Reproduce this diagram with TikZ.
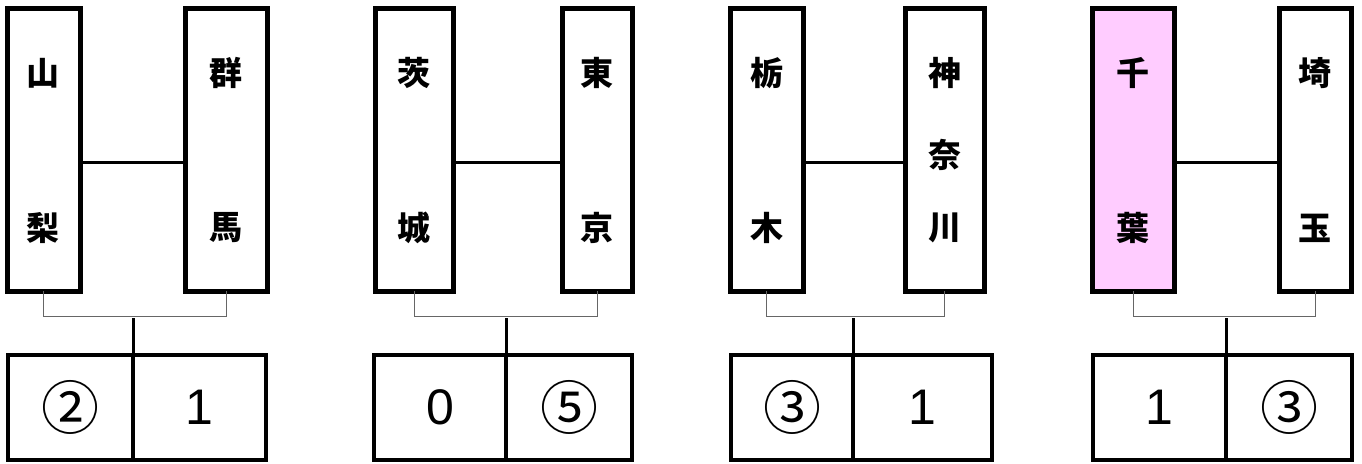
\documentclass[tikz,border=0pt]{standalone}
\usepackage{fontspec}
\setmainfont{Liberation Sans}
\newfontfamily\jp{Noto Sans CJK JP}
\usetikzlibrary{positioning}

\definecolor{winpink}{RGB}{255,204,255}
\newcommand{\circnum}[1]{{\jp\fontsize{58}{58}\selectfont #1}}
\tikzset{
  pref/.style={draw, line width=5pt, minimum height=283pt, inner sep=0pt, outer sep=0pt},
  pname/.style={font=\jp\bfseries\fontsize{33}{33}\selectfont, inner sep=0pt},
  cell/.style={draw, line width=3.5pt, minimum height=105pt, inner sep=0pt, outer sep=0pt, font=\fontsize{50}{50}\selectfont},
  tie/.style={line width=3pt},
  bracket/.style={draw=black!60, line width=1pt}
}

\begin{document}
\begin{tikzpicture}[x=1pt, y=-1pt]
    \useasboundingbox (0,0) rectangle (1362,463);
    % prefecture boxes
    \foreach \n/\cx/\w/\c in {yamanashi/43.5/73/white, gunma/226/82/white, ibaraki/414/78/white, tokyo/597/70/white, tochigi/766.5/73/white, kanagawa/944.5/79/white, chiba/1133/82/winpink, saitama/1315/72/white}
        \node[pref, minimum width=\w, fill=\c] (\n) at (\cx,149.5) {};
    \foreach \n/\a/\b in {yamanashi/山/梨, gunma/群/馬, ibaraki/茨/城, tokyo/東/京, tochigi/栃/木, kanagawa/神/川, chiba/千/葉, saitama/埼/玉} {
        \node[pname] (\n-1) at ([yshift=-65pt]\n.north) {\a};
        \node[pname] (\n-2) at ([yshift=63pt]\n.south) {\b};
    }
    \node[pname] (kanagawa-m) at ([yshift=-5pt]kanagawa.center) {奈};
    % matches
    \foreach \a/\b/\g in {yamanashi/gunma/1, ibaraki/tokyo/2, tochigi/kanagawa/3, chiba/saitama/4} {
        \draw[tie] ([yshift=-12.5pt]\a.east) -- ([yshift=-12.5pt]\b.west);
        \draw[bracket] (\a.south) -- ++(0,25) coordinate (k\g) -| (\b.south);
    }
    % scores
    \foreach \g/\cx/\wa/\wb/\sa/\sb in {1/70.5/125/133/\circnum{②}/1, 2/440/132/126/0/\circnum{⑤}, 3/792/122/139/\circnum{③}/1, 4/1159.5/133/126/1/\circnum{③}} {
        \node[cell, minimum width=\wa] (sc\g-l) at (\cx,407.5) {\sa};
        \node[cell, minimum width=\wb, right=0pt of sc\g-l] (sc\g-r) {\sb};
        \draw[tie] ([yshift=-2pt]k\g -| sc\g-l.north east) -- (sc\g-l.north east);
    }
\end{tikzpicture}
\end{document}
